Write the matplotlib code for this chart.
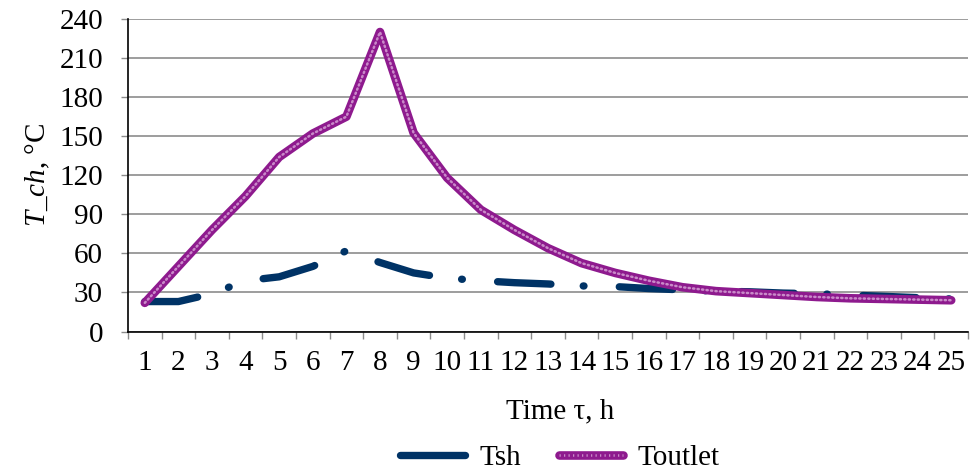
import matplotlib
matplotlib.use("Agg")
import matplotlib.pyplot as plt
from matplotlib.lines import Line2D

plt.rcParams["font.family"] = ["Liberation Serif", "DejaVu Serif"]
plt.rcParams["mathtext.fontset"] = "custom"
plt.rcParams["mathtext.rm"] = "Liberation Serif"
plt.rcParams["mathtext.it"] = "Liberation Serif:italic"

# hourly readings
hours = list(range(1, 26))
tsh = [23, 23, 29, 39, 42, 50, 62, 53, 45, 41, 39, 37.5, 36.5, 35, 34.5,
       33, 32, 31, 30.5, 29.5, 29, 28, 27, 26, 25]
toutlet = [22, 50, 78, 104, 134, 152, 165, 230, 152.5, 118, 93.5, 78, 64, 52.5, 45,
           39, 34, 31, 29.5, 28, 26.5, 25.5, 25, 24.5, 24]
y_ticks = list(range(0, 241, 30))

navy = "#003366"
purple = "#8E1A8E"
speckle = "#C98AC9"
fs = 21

fig = plt.figure(figsize=(9.74, 4.72), dpi=100)
ax = fig.add_axes([128 / 974, 1 - 331.5 / 472, 840 / 974, 312.5 / 472])

ax.plot(hours, tsh, color=navy, lw=5.3, solid_capstyle="round",
        dash_capstyle="round", linestyle=(0, (7.25, 4.4, 0.1, 4.8)), zorder=3)
ax.plot(hours, toutlet, color=purple, lw=6.2, solid_capstyle="round",
        solid_joinstyle="round", zorder=4)
ax.plot(hours, toutlet, color=speckle, lw=1.8, linestyle=(0, (0.5, 1.3)),
        dash_capstyle="round", zorder=5)

ax.set_xlim(0.5, 25.5)
ax.set_ylim(0, 240)
ax.set_yticks(y_ticks)
ax.yaxis.grid(True, color="#8c8c8c", lw=1.2)
ax.set_axisbelow(True)

# category axis: marks between hours, labels at the hours
ax.set_xticks([h - 0.5 for h in hours] + [25.5])
ax.set_xticklabels([])
ax.set_xticks(hours, minor=True)
ax.set_xticklabels([str(h) for h in hours], minor=True)
ax.tick_params(axis="x", which="major", length=5, width=1, color="#8c8c8c", direction="out")
ax.tick_params(axis="x", which="minor", length=0, pad=13, labelsize=fs)
ax.tick_params(axis="y", length=5, width=1, color="#8c8c8c", pad=13, labelsize=fs)

for side in ("top", "right"):
    ax.spines[side].set_visible(False)
for side in ("left", "bottom"):
    ax.spines[side].set_color("black")
    ax.spines[side].set_linewidth(1.2)

fig.text(38 / 974, 1 - 175 / 472, "$T\\_ch$, °C", rotation=90, ha="center",
         va="center", fontsize=fs)
fig.text(560 / 974, 1 - 411 / 472, "Time τ, h", ha="center", va="center", fontsize=fs)

h_tsh = Line2D([], [], color=navy, lw=5.3, solid_capstyle="round")
h_out = (Line2D([], [], color=purple, lw=6.2, solid_capstyle="round"),
         Line2D([], [], color=speckle, lw=1.8, linestyle=(0, (0.5, 1.3))))
fig.legend([h_tsh, h_out], ["Tsh", "Toutlet"], loc="center", ncol=2,
           bbox_to_anchor=(560 / 974, 1 - 458 / 472), frameon=False, fontsize=fs,
           handlelength=2.2, handletextpad=0.5, columnspacing=1.3)

fig.savefig("out.png", dpi=100)
